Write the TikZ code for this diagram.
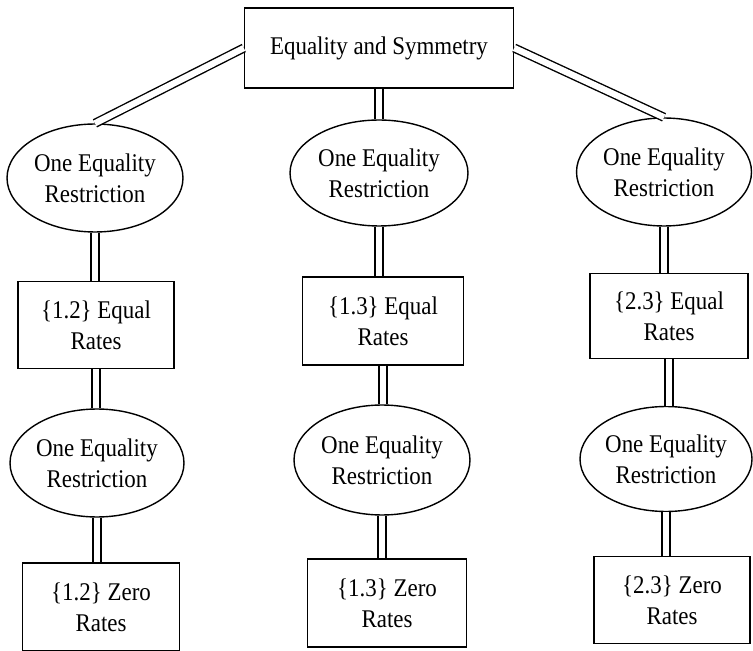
\documentclass[tikz,border=0pt]{standalone}
\usepackage{fontspec}
\setmainfont{Liberation Serif}[FakeStretch=0.9]
\usetikzlibrary{shapes.geometric}

\begin{document}
\begin{tikzpicture}[
  x=0.02cm, y=-0.02cm,
  font=\fontsize{14.5}{17.5}\selectfont,
  title/.style={draw, thick, align=center, minimum width=5.38cm, minimum height=1.6cm},
  restr/.style={draw, thick, ellipse, align=center, inner sep=0pt},
  rates/.style={draw, thick, align=center, inner sep=0pt},
  link/.style={double, double distance=3.6pt, line width=0.8pt}
]
\useasboundingbox (0,0) rectangle (753,651);

\node[title] (top) at (379,48) {Equality and Symmetry};

% left column
\node[restr, minimum width=3.52cm, minimum height=2.16cm] (l1) at (95,178) {One Equality\\Restriction};
\node[rates, minimum width=3.12cm, minimum height=1.74cm] (l2) at (96,325) {\{1.2\} Equal\\Rates};
\node[restr, minimum width=3.48cm, minimum height=2.16cm] (l3) at (97,463) {One Equality\\Restriction};
\node[rates, minimum width=3.14cm, minimum height=1.76cm] (l4) at (101,607) {\{1.2\} Zero\\Rates};

% middle column
\node[restr, minimum width=3.56cm, minimum height=2.12cm] (m1) at (379,173) {One Equality\\Restriction};
\node[rates, minimum width=3.22cm, minimum height=1.76cm] (m2) at (383,321) {\{1.3\} Equal\\Rates};
\node[restr, minimum width=3.52cm, minimum height=2.2cm] (m3) at (382,460) {One Equality\\Restriction};
\node[rates, minimum width=3.18cm, minimum height=1.76cm] (m4) at (387,603) {\{1.3\} Zero\\Rates};

% right column
\node[restr, minimum width=3.5cm, minimum height=2.16cm] (r1) at (664,172) {One Equality\\Restriction};
\node[rates, minimum width=3.16cm, minimum height=1.7cm] (r2) at (669,316) {\{2.3\} Equal\\Rates};
\node[restr, minimum width=3.4cm, minimum height=2.1cm] (r3) at (666,459) {One Equality\\Restriction};
\node[rates, minimum width=3.12cm, minimum height=1.74cm] (r4) at (672,600) {\{2.3\} Zero\\Rates};

\draw[link] (top.west) -- (l1.north);
\draw[link] (top.south) -- (top.south |- m1.north);
\draw[link] (top.east) -- (r1.north);

\draw[link] (l1.south) -- (l1.south |- l2.north);
\draw[link] (l2.south) -- (l2.south |- l3.north);
\draw[link] (l3.south) -- (l3.south |- l4.north);
\draw[link] (m1.south) -- (m1.south |- m2.north);
\draw[link] (m2.south) -- (m2.south |- m3.north);
\draw[link] (m3.south) -- (m3.south |- m4.north);
\draw[link] (r1.south) -- (r1.south |- r2.north);
\draw[link] (r2.south) -- (r2.south |- r3.north);
\draw[link] (r3.south) -- (r3.south |- r4.north);

\end{tikzpicture}
\end{document}
